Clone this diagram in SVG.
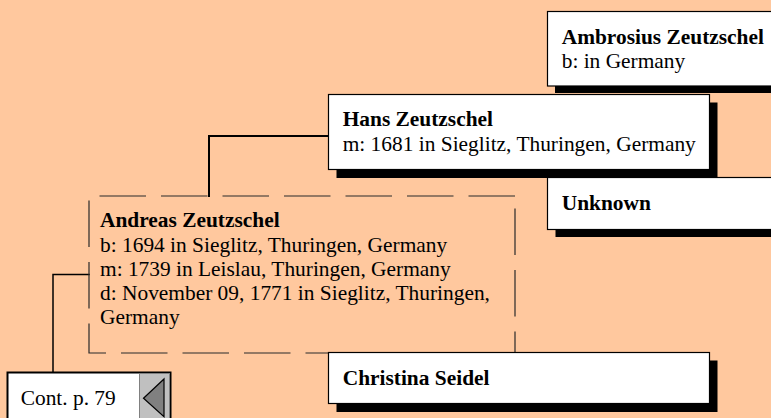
<svg xmlns="http://www.w3.org/2000/svg" width="771" height="418" viewBox="0 0 771 418">
<defs>
<style>
text{font-family:"Liberation Serif","Times New Roman",serif;font-size:21.4px;fill:#000}
.b{font-weight:bold}
.box{fill:#fff;stroke:#000;stroke-width:1.2}
.sh{fill:#000}
.conn{fill:none;stroke:#000;stroke-linecap:square}
</style>
</defs>
<rect x="0" y="0" width="771" height="418" fill="#FFC89E"/>
<g id="connectors">
<path class="conn" d="M328,136 H209 V196" stroke-width="2"/>
<path class="conn" d="M89,274.5 H53 V372" stroke-width="1.5"/>
</g>
<g id="andreas">
<path d="M515,196 H89 V353 H515 Z" fill="none" stroke="#2a2a2a" stroke-width="1.2" stroke-dasharray="46.5 15"/>
<text x="100" y="226.7" class="b">Andreas Zeutzschel</text>
<text x="100" y="251.5">b: 1694 in Sieglitz, Thuringen, Germany</text>
<text x="100" y="275.5">m: 1739 in Leislau, Thuringen, Germany</text>
<text x="100" y="299.5">d: November 09, 1771 in Sieglitz, Thuringen,</text>
<text x="100" y="323.5">Germany</text>
</g>
<g id="ambrosius">
<rect class="sh" x="555" y="19" width="230" height="74"/>
<rect class="box" x="547.5" y="11.5" width="240" height="74.5"/>
<text x="561.7" y="44.3" class="b">Ambrosius Zeutzschel</text>
<text x="561.7" y="68.3">b: in Germany</text>
</g>
<g id="hans">
<rect class="sh" x="336.5" y="102.5" width="381" height="75.5"/>
<rect class="box" x="328.5" y="94.5" width="381" height="75"/>
<text x="342.7" y="125.5" class="b">Hans Zeutzschel</text>
<text x="342.7" y="151">m: 1681 in Sieglitz, Thuringen, Germany</text>
</g>
<g id="unknown">
<rect class="sh" x="555.5" y="185.5" width="230" height="51.5"/>
<rect class="box" x="547.5" y="177.5" width="240" height="52"/>
<text x="561.7" y="210" class="b">Unknown</text>
</g>
<g id="christina">
<rect class="sh" x="336.5" y="360.5" width="381" height="51.5"/>
<rect class="box" x="328.5" y="352.5" width="381" height="51"/>
<text x="342.7" y="385" class="b">Christina Seidel</text>
</g>
<g id="cont">
<rect x="7.5" y="372.5" width="163" height="60" fill="#fff" stroke="#000" stroke-width="2"/>
<rect x="139.5" y="373.5" width="30" height="50" fill="#C0C0C0" stroke="#808080" stroke-width="1"/>
<polygon points="143.5,398.3 164,379 164,416.7" fill="#808080" stroke="#000" stroke-width="1.2"/>
<text x="20.7" y="405">Cont. p. 79</text>
</g>
</svg>
